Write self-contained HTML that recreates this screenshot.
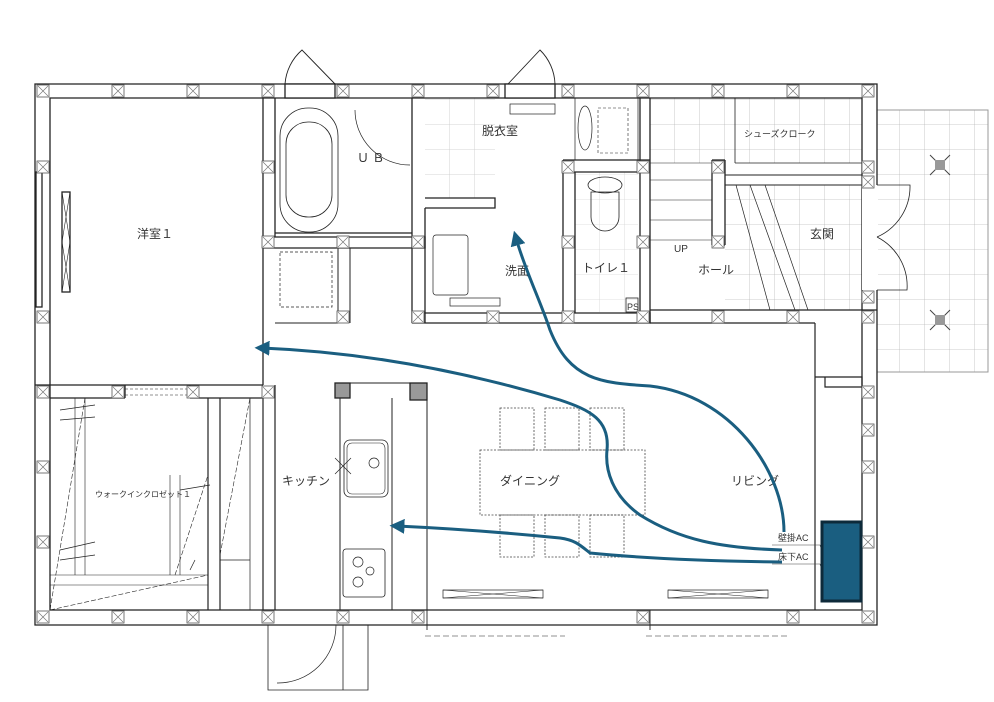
<!DOCTYPE html>
<html><head><meta charset="utf-8"><style>
html,body{margin:0;padding:0;background:#fff;}
svg{display:block;}
text{font-family:"Liberation Sans","Noto Sans CJK JP",sans-serif;fill:#333;}
</style></head><body>
<svg width="994" height="702" viewBox="0 0 994 702" xmlns="http://www.w3.org/2000/svg">
<defs>
<pattern id="grid" width="25" height="25" patternUnits="userSpaceOnUse"><path d="M25 0V25H0" fill="none" stroke="#bbb" stroke-width="0.8"/></pattern>
<g id="col"><rect x="-6" y="-6" width="12" height="12" fill="#fff" stroke="#555" stroke-width="0.8"/><path d="M-5 -5L5 5M5 -5L-5 5" stroke="#777" stroke-width="0.7"/></g>
<marker id="ah" viewBox="0 0 10 10" refX="5" refY="5" markerWidth="5" markerHeight="5" orient="auto-start-reverse"><path d="M0 0L10 5L0 10z" fill="#1a5e80"/></marker>
</defs>

<rect x="877" y="110" width="111" height="262" fill="url(#grid)" stroke="#999"/>
<path d="M930 155l20 20M950 155l-20 20M930 310l20 20M950 310l-20 20" stroke="#444"/>
<rect x="935" y="160" width="10" height="10" fill="#999"/><rect x="935" y="315" width="10" height="10" fill="#999"/>
<rect x="650" y="98" width="212" height="65" fill="url(#grid)"/>
<rect x="725" y="185" width="137" height="125" fill="url(#grid)"/>
<rect x="425" y="98" width="70" height="100" fill="url(#grid)" opacity="0.8"/>
<rect x="575" y="172" width="63" height="140" fill="url(#grid)" opacity="0.6"/>

<g fill="none" stroke="#222" stroke-width="1.3">
<path d="M35 84H877V625H35Z"/>
<path d="M50 98H862V610H50Z"/>
<rect x="36" y="172" width="6" height="135" fill="#fff"/>
<rect x="62" y="192" width="8" height="100"/>
<path d="M62 192l8 50l-8 50M70 192l-8 50l8 50" stroke-width="0.6"/>
<rect x="285" y="84" width="50" height="14" fill="#fff"/>
<rect x="505" y="84" width="50" height="14" fill="#fff"/>
<path d="M285 84A50 50 0 0 1 302 50L335 84M555 84A50 50 0 0 0 540 50L508 84" stroke-width="0.9"/>
<path d="M263 98V385M275 98V237M263 237H425V248H263M275 233H412"/>
<path d="M412 98V323M425 208V323M425 198H495V208H425"/>
<rect x="280" y="108" width="58" height="124" rx="28" stroke-width="0.8"/>
<rect x="286" y="122" width="46" height="95" rx="22" stroke-width="0.8"/>
<path d="M355 110A55 55 0 0 0 410 165" stroke-width="0.7"/>
<path d="M338 248V323M350 248V323M338 323H275M263 300V385" stroke-width="1"/>
<rect x="280" y="252" width="52" height="55" stroke-dasharray="3 2" stroke-width="0.7"/>
<path d="M412 313H650V323H412"/>
<rect x="433" y="235" width="35" height="60" rx="3" stroke-width="0.7"/>
<rect x="510" y="104" width="45" height="10" stroke-width="0.7"/>
<rect x="450" y="298" width="50" height="8" stroke-width="0.7"/>
<path d="M563 160H650M563 172H640M563 160V323M575 172V313M640 98V323M650 98V323"/>
<rect x="575" y="98" width="63" height="62" stroke-width="0.7"/>
<rect x="598" y="108" width="30" height="45" stroke-dasharray="3 2" stroke-width="0.6"/>
<ellipse cx="585" cy="128" rx="7" ry="22" stroke-width="0.7"/>
<ellipse cx="605" cy="185" rx="17" ry="8" stroke-width="0.8"/>
<path d="M591 192h28v25a14 14 0 0 1 -28 0z" stroke-width="0.8"/>
<rect x="626" y="298" width="12" height="14" stroke-width="0.8"/>
<path d="M712 160V245M725 160V245M712 160H725M712 245H725" />
<path d="M650 163H712M650 180H712M650 200H712M650 220H712M650 240H712" stroke-width="0.6"/>
<path d="M725 175H862M725 185H862" stroke-width="1"/>
<path d="M735 98V163M735 163H862" stroke-width="0.8"/>
<path d="M736 185L770 310M750 185L795 310M765 185L808 310" stroke-width="0.7"/>
<path d="M650 310H877M650 323H815M815 323V610M815 377H862V387H825V377" stroke-width="1.2"/>
<rect x="862" y="185" width="16" height="105" fill="#fff" stroke="none"/>
<path d="M877 185H910A55 55 0 0 1 877 237M877 237A55 55 0 0 1 907 290H877" stroke-width="0.8"/>
<path d="M35 385H263M50 398H125M190 398H263M125 385V398M190 385V398"/>
<path d="M208 398V610M220 398V610M263 398V610M275 385V610" stroke-width="1.2"/>
<path d="M125 389H190M125 395H190" stroke-dasharray="3 2" stroke-width="0.6"/>
<path d="M75 398V575M85 398V575M170 475V575M180 475V575M50 575H208M50 585H208" stroke-width="0.6"/>
<path d="M50 610L85 398M50 610L208 575M175 575L208 475M220 555L250 398" stroke-width="0.6" stroke-dasharray="5 2"/>
<path d="M60 410l35 -5M60 420l35 -3M60 560l35 -5M60 550l35 -8M180 490l30 -5M190 570l5 -10" stroke-width="0.7"/>
<path d="M220 560H250M250 398V610" stroke-width="0.7"/>
<path d="M340 398V610M392 398V610M335 383H427V398M427 383V610" stroke-width="1"/>
<rect x="335" y="383" width="15" height="15" fill="#999"/>
<rect x="410" y="383" width="17" height="17" fill="#999"/>
<rect x="344" y="440" width="44" height="57" rx="6" stroke-width="0.8"/>
<rect x="347" y="443" width="38" height="51" rx="5" stroke-width="0.6"/>
<circle cx="374" cy="463" r="5" stroke-width="0.7"/>
<path d="M335 458l16 16M351 458l-16 16" stroke-width="0.7"/>
<rect x="343" y="549" width="42" height="48" rx="3" stroke-width="0.8"/>
<circle cx="358" cy="562" r="5" stroke-width="0.7"/><circle cx="370" cy="571" r="4" stroke-width="0.7"/><circle cx="358" cy="582" r="5" stroke-width="0.7"/>
<path d="M268 625V690H368V625M343 625V690" stroke-width="0.8"/>
<path d="M277 683A58 58 0 0 0 336 625" stroke-width="0.7"/>
<path d="M427 610V630M650 630V610M427 625H650" stroke-width="0.9"/>
<rect x="443" y="590" width="100" height="8" stroke-width="0.7"/>
<rect x="668" y="590" width="100" height="8" stroke-width="0.7"/>
<path d="M443 590l100 8M443 598l100 -8M668 590l100 8M668 598l100 -8" stroke-width="0.5"/>
<path d="M425 636H565M646 636H790" stroke-dasharray="6 3" stroke-width="0.6"/>
</g>

<g fill="none" stroke="#444" stroke-width="0.8" stroke-dasharray="2 1.5">
<rect x="480" y="450" width="165" height="65"/>
<rect x="500" y="408" width="34" height="42"/><rect x="545" y="408" width="34" height="42"/><rect x="590" y="408" width="34" height="42"/>
<rect x="500" y="515" width="34" height="42"/><rect x="545" y="515" width="34" height="42"/><rect x="590" y="515" width="34" height="42"/>
</g>

<g>
<use href="#col" x="43" y="91"/><use href="#col" x="118" y="91"/><use href="#col" x="193" y="91"/><use href="#col" x="268" y="91"/><use href="#col" x="343" y="91"/><use href="#col" x="418" y="91"/><use href="#col" x="493" y="91"/><use href="#col" x="568" y="91"/><use href="#col" x="643" y="91"/><use href="#col" x="718" y="91"/><use href="#col" x="793" y="91"/><use href="#col" x="868" y="91"/>
<use href="#col" x="43" y="167"/><use href="#col" x="43" y="317"/><use href="#col" x="43" y="392"/><use href="#col" x="43" y="467"/><use href="#col" x="43" y="542"/><use href="#col" x="43" y="617"/>
<use href="#col" x="268" y="167"/><use href="#col" x="268" y="242"/><use href="#col" x="343" y="242"/><use href="#col" x="418" y="242"/><use href="#col" x="343" y="317"/><use href="#col" x="418" y="317"/><use href="#col" x="493" y="317"/><use href="#col" x="568" y="317"/><use href="#col" x="643" y="317"/><use href="#col" x="718" y="317"/><use href="#col" x="793" y="317"/>
<use href="#col" x="568" y="167"/><use href="#col" x="643" y="167"/><use href="#col" x="568" y="242"/><use href="#col" x="643" y="242"/><use href="#col" x="718" y="167"/><use href="#col" x="718" y="242"/>
<use href="#col" x="868" y="167"/><use href="#col" x="868" y="182"/><use href="#col" x="868" y="297"/><use href="#col" x="868" y="317"/><use href="#col" x="868" y="392"/><use href="#col" x="868" y="430"/><use href="#col" x="868" y="467"/><use href="#col" x="868" y="542"/><use href="#col" x="868" y="617"/>
<use href="#col" x="118" y="392"/><use href="#col" x="193" y="392"/><use href="#col" x="268" y="392"/>
<use href="#col" x="118" y="617"/><use href="#col" x="193" y="617"/><use href="#col" x="268" y="617"/><use href="#col" x="343" y="617"/><use href="#col" x="418" y="617"/><use href="#col" x="643" y="617"/><use href="#col" x="793" y="617"/>
</g>

<g font-size="12">
<text x="137" y="238">洋室１</text>
<text x="357" y="162">Ｕ Ｂ</text>
<text x="482" y="135">脱衣室</text>
<text x="505" y="275">洗面</text>
<text x="582" y="272">トイレ１</text>
<text x="698" y="274">ホール</text>
<text x="810" y="238">玄関</text>
<text x="282" y="485">キッチン</text>
<text x="500" y="485">ダイニング</text>
<text x="731" y="485">リビング</text>
</g>
<text x="744" y="137" font-size="9">シューズクローク</text>
<text x="95" y="497" font-size="8">ウォークインクロゼット１</text>
<text x="674" y="252" font-size="10">UP</text>
<text x="627" y="310" font-size="9">PS</text>
<text x="778" y="541" font-size="9">壁掛AC</text>
<text x="778" y="560" font-size="9">床下AC</text>
<path d="M772 545H820L822 551M772 564H820L822 570" stroke="#444" stroke-width="0.6" fill="none"/>

<rect x="822" y="522" width="39" height="79" fill="#1a5e80" stroke="#0d2a3a" stroke-width="3"/>

<g fill="none" stroke="#1a5e80" stroke-width="3">
<path d="M784 532C784 470 730 395 650 386C600 383 570 380 550 330C540 300 525 270 516 238" marker-end="url(#ah)"/>
<path d="M782 550C720 548 680 540 640 515C612 495 605 470 607 450C610 420 590 410 560 400C460 370 360 352 262 348" marker-end="url(#ah)"/>
<path d="M782 562C700 561 640 558 590 553C580 545 575 540 560 538C500 532 440 528 397 526" marker-end="url(#ah)"/>
</g>
</svg>
</body></html>
